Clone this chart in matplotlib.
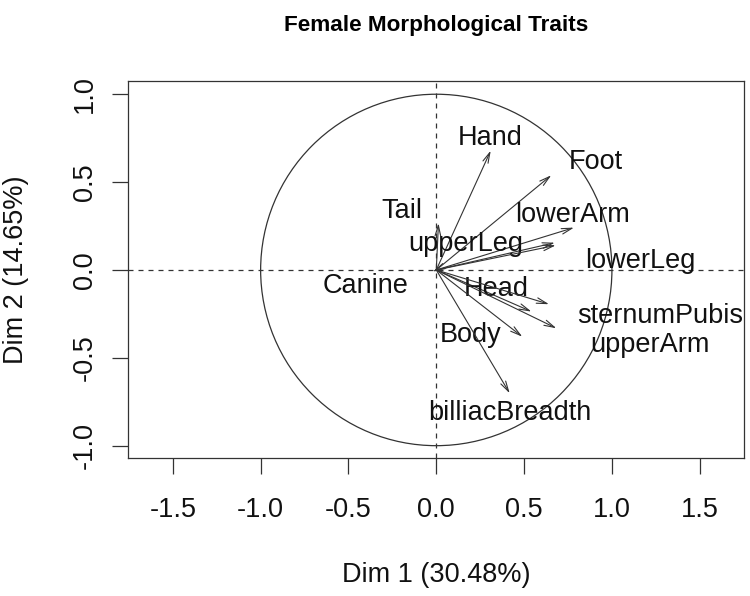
import numpy as np
import matplotlib.pyplot as plt
from matplotlib.patches import Circle

plt.rcParams['font.family'] = ['Liberation Sans', 'DejaVu Sans']

# variable coordinates on Dim 1 / Dim 2 (arrow tips)
traits = ['Hand', 'Foot', 'lowerArm', 'upperLeg', 'lowerLeg', 'Tail', 'Canine',
          'Head', 'sternumPubis', 'upperArm', 'Body', 'billiacBreadth']
dim1 = [0.31, 0.655, 0.784, 0.675, 0.68, 0.0125, -0.02, 0.542, 0.642, 0.684, 0.49, 0.418]
dim2 = [0.679, 0.539, 0.241, 0.155, 0.14, 0.266, -0.01, -0.237, -0.195, -0.332, -0.38, -0.702]
# label positions (repelled, as in the original plot), baseline y
lab_x = [0.307, 0.907, 0.778, 0.165, 1.163, -0.196, -0.404, 0.341, 1.274, 1.214, 0.195, 0.421]
lab_y = [0.711, 0.575, 0.275, 0.108, 0.011, 0.296, -0.131, -0.148, -0.302, -0.467, -0.41, -0.854]

fig = plt.figure(figsize=(7.5, 5.96), dpi=100)
ax = fig.add_axes([0.170, 0.231, 0.822, 0.6336])

ax.set_xlim(-1.758, 1.752)
ax.set_ylim(-1.072, 1.077)

dash = (0, (4, 4))
# unit circle and dashed axes
ax.add_patch(Circle((0, 0), 1, fill=False, edgecolor='#333333', lw=0.9))
ax.axhline(0, color='#333333', ls=dash, lw=0.9)
ax.axvline(0, color='#333333', ls=dash, lw=0.9)

for i in range(len(traits)):
    ax.annotate('', xy=(dim1[i], dim2[i]), xytext=(0, 0),
                arrowprops=dict(arrowstyle='->,head_length=0.75,head_width=0.2',
                                color='#333333', lw=0.8, shrinkA=0, shrinkB=0))
    ax.text(lab_x[i], lab_y[i], traits[i], fontsize=19.5, ha='center', va='baseline',
            color='#111111')

ax.set_xticks([-1.5, -1.0, -0.5, 0.0, 0.5, 1.0, 1.5])
ax.set_xticklabels(['-1.5', '-1.0', '-0.5', '0.0', '0.5', '1.0', '1.5'])
ax.set_yticks([-1.0, -0.5, 0.0, 0.5, 1.0])
ax.set_yticklabels(['-1.0', '-0.5', '0.0', '0.5', '1.0'], rotation=90, va='center')
ax.tick_params(labelsize=19.5, length=11.5, width=0.9, color='#333333', labelcolor='#111111')
ax.tick_params(axis='x', pad=16.5)
ax.tick_params(axis='y', pad=10)
for s in ax.spines.values():
    s.set_linewidth(0.9)
    s.set_color('#333333')

ax.set_xlabel('Dim 1 (30.48%)', fontsize=19.5, color='#111111')
ax.xaxis.label.set_va('center')
ax.xaxis.set_label_coords(0.5, -0.309)
ax.set_ylabel('Dim 2 (14.65%)', fontsize=19.5, color='#111111')
ax.yaxis.label.set_va('center')
ax.yaxis.set_label_coords(-0.181, 0.5)
fig.text(0.5 * (0.170 + 0.992), 1 - 31 / 596, 'Female Morphological Traits',
         fontsize=16.2, fontweight='bold', ha='center', va='baseline')

plt.savefig('out.png', dpi=100)
